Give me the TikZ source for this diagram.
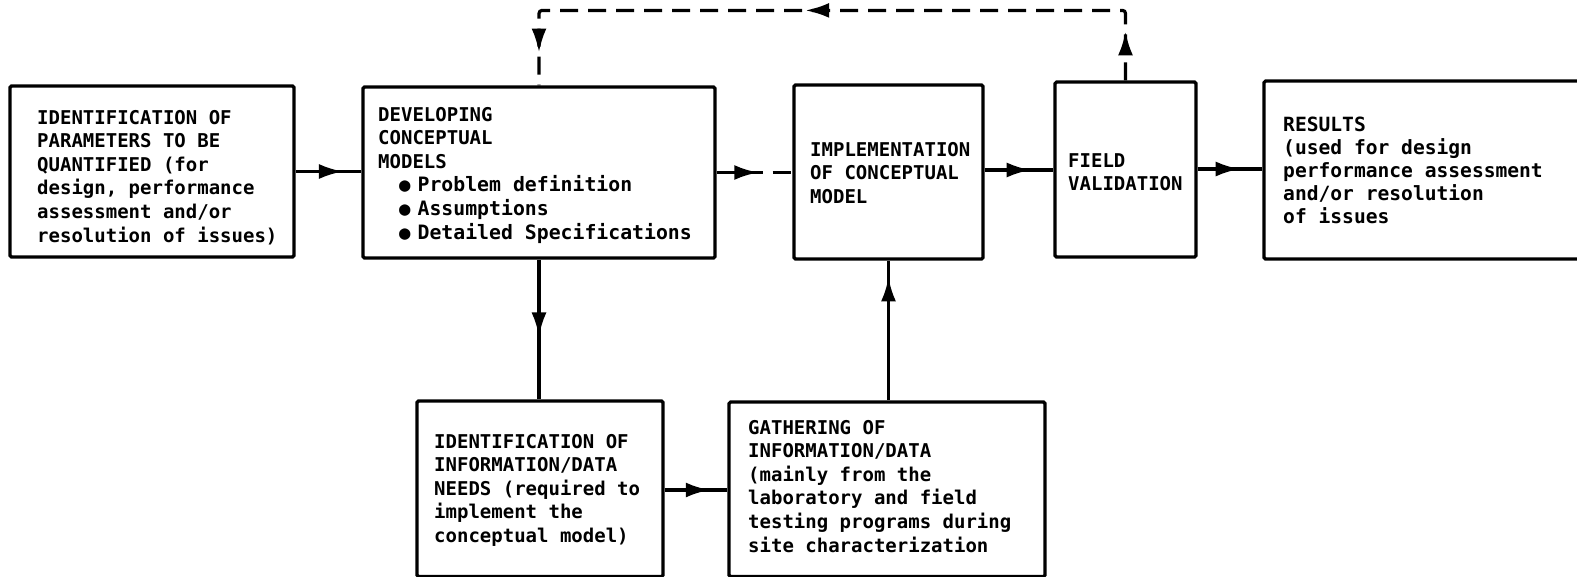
\documentclass[tikz,border=0pt]{standalone}
\usepackage{fontspec}
\newfontfamily\dmono{DejaVu Sans Mono}
\usetikzlibrary{arrows.meta,decorations.markings,calc}
\begin{document}
\begin{tikzpicture}[x=1pt,y=-1pt,
  box/.style={draw, line width=3.2pt, rounded corners=1.5pt, inner sep=0pt},
  txt/.style={font=\dmono\bfseries\fontsize{19pt}{23.6pt}\selectfont, align=left, inner sep=0pt, anchor=north west},
  conn/.style={line width=3.2pt},
  dconn/.style={line width=3.2pt, dash pattern=on 18pt off 10pt},
  >={Latex[length=24pt,width=15pt]},
  arrowat/.style={postaction={decorate}, decoration={markings, mark=at position #1 with {\arrow{>}}}}
]
\path[use as bounding box] (0,0) rectangle (1577,576);
\fill[white] (0,0) rectangle (1577,576);
\clip (0,0) rectangle (1577,576);

% boxes
\node[box, minimum width=284pt, minimum height=171pt] (B1) at (152,171.5) {};
\node[box, minimum width=352pt, minimum height=171pt] (B2) at (539,172.5) {};
\node[box, minimum width=189pt, minimum height=174pt] (B3) at (888.5,172) {};
\node[box, minimum width=141pt, minimum height=175pt] (B4) at (1125.5,169.5) {};
\node[box, minimum width=338pt, minimum height=178pt] (B5) at (1433,170) {};
\node[box, minimum width=246pt, minimum height=175.5pt] (B6) at (540,488.75) {};
\node[box, minimum width=316pt, minimum height=174.5pt] (B7) at (887,489.25) {};

% texts
\node[txt] (T1) at (37,107.4) {\strut IDENTIFICATION OF\\PARAMETERS TO BE\\QUANTIFIED (for\\design, performance\\assessment and/or\\resolution of issues)};
\node[txt] (T2) at (378,104.4) {\strut DEVELOPING\\CONCEPTUAL\\MODELS\\\hspace*{21pt}●\hspace{7pt}{\fontsize{19.8pt}{23.6pt}\selectfont Problem definition}\\\hspace*{21pt}●\hspace{7pt}{\fontsize{19.8pt}{23.6pt}\selectfont Assumptions}\\\hspace*{21pt}●\hspace{7pt}{\fontsize{19.8pt}{23.6pt}\selectfont Detailed Specifications}};
\node[txt] (T3) at (810,139.4) {\strut IMPLEMENTATION\\OF CONCEPTUAL\\MODEL};
\node[txt, font=\dmono\bfseries\fontsize{19pt}{23pt}\selectfont] (T4) at (1068,150.8) {\strut FIELD\\VALIDATION};
\node[txt, font=\dmono\bfseries\fontsize{19.6pt}{23pt}\selectfont] (T5) at (1283,115.5) {\strut RESULTS\\(used for design\\performance assessment\\and/or resolution\\of issues};
\node[txt, font=\dmono\bfseries\fontsize{19pt}{23.5pt}\selectfont] (T6) at (434,431.45) {\strut IDENTIFICATION OF\\INFORMATION/DATA\\NEEDS (required to\\implement the\\conceptual model)};
\node[txt] (T7) at (748,417.4) {\strut GATHERING OF\\INFORMATION/DATA\\(mainly from the\\laboratory and field\\testing programs during\\site characterization};

% connectors
\draw[conn, arrowat=0.72] (B1.east) -- (B2.west |- B1.east);
\draw[dconn, arrowat=0.55] (B2.east) -- (B3.west |- B2.east);
\draw[conn, arrowat=0.67] (B3.east |- 0,170) -- (B4.west |- 0,170);
\draw[conn, arrowat=0.65] (B4.east |- 0,169) -- (B5.west |- 0,169);
\draw[conn, arrowat=0.55] (B2.south) -- (B6.north -| B2.south);
\draw[conn, arrowat=0.72] (B6.east |- 0,490) -- (B7.west |- 0,490);
\draw[conn, arrowat=0.88] (B7.north -| B3.south) -- (B3.south);

\coordinate (L1) at ($(B4.north)+(0,-70)$);
\draw[dconn, rounded corners=3pt, postaction={decorate}, decoration={markings,
    mark=at position 49pt with {\arrow{>}},
    mark=at position 389pt with {\arrow{>}},
    mark=at position 696pt with {\arrow{>}}}]
  (B4.north) -- (L1) -| (B2.north);
\end{tikzpicture}
\end{document}
